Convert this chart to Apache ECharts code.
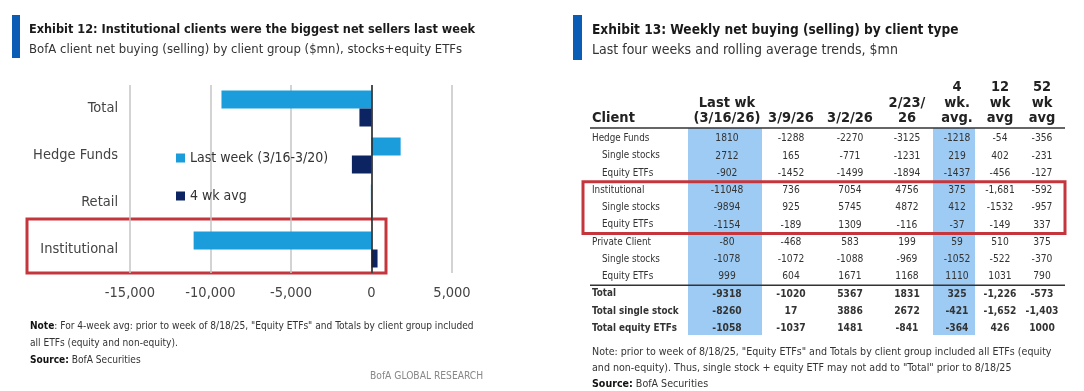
<!DOCTYPE html>
<html><head><meta charset="utf-8">
<script src="https://cdn.jsdelivr.net/npm/echarts@6/dist/echarts.min.js"></script>
<style>html,body{margin:0;padding:0;background:#fff}#c{width:1084px;height:391px}</style>
</head><body><div id="c"></div>
<script>
// ---------- data: Exhibit 12 ----------
const categories = ['Total', 'Hedge Funds', 'Retail', 'Institutional'];
const lastWeek = [-9318, 1810, -40, -11048];
const fourWeekAvg = [-750, -1218, 30, 375];
const seriesNames = ['Last week (3/16-3/20)', '4 wk avg'];

// ---------- data: Exhibit 13 ----------
const tableHeaderFirst = 'Client';
const tableColumns = ['Last wk\n(3/16/26)', '3/9/26', '3/2/26', '2/23/\n26', '4\nwk.\navg.', '12\nwk\navg', '52\nwk\navg'];
const tableRowNames = ['Hedge Funds', 'Single stocks', 'Equity ETFs', 'Institutional', 'Single stocks', 'Equity ETFs',
  'Private Client', 'Single stocks', 'Equity ETFs', 'Total', 'Total single stock', 'Total equity ETFs'];
const hedgeFunds = ['1810', '-1288', '-2270', '-3125', '-1218', '-54', '-356'];
const hedgeFundsSingle = ['2712', '165', '-771', '-1231', '219', '402', '-231'];
const hedgeFundsETF = ['-902', '-1452', '-1499', '-1894', '-1437', '-456', '-127'];
const institutional = ['-11048', '736', '7054', '4756', '375', '-1,681', '-592'];
const institutionalSingle = ['-9894', '925', '5745', '4872', '412', '-1532', '-957'];
const institutionalETF = ['-1154', '-189', '1309', '-116', '-37', '-149', '337'];
const privateClient = ['-80', '-468', '583', '199', '59', '510', '375'];
const privateClientSingle = ['-1078', '-1072', '-1088', '-969', '-1052', '-522', '-370'];
const privateClientETF = ['999', '604', '1671', '1168', '1110', '1031', '790'];
const totalAll = ['-9318', '-1020', '5367', '1831', '325', '-1,226', '-573'];
const totalSingle = ['-8260', '17', '3886', '2672', '-421', '-1,652', '-1,403'];
const totalETF = ['-1058', '-1037', '1481', '-841', '-364', '426', '1000'];
const tableValues = [hedgeFunds, hedgeFundsSingle, hedgeFundsETF, institutional, institutionalSingle, institutionalETF,
  privateClient, privateClientSingle, privateClientETF, totalAll, totalSingle, totalETF];

// ---------- layout / style ----------
const FONT = '"Liberation Sans Narrow", "DejaVu Sans Condensed", Lato, sans-serif';
const LIGHT = '#1b9ddb', NAVY = '#0c2461', RED = '#c4363c', TITLEBLUE = '#0b5cb5', HL = '#9ecbf3', TXT = '#333';
const TABLE_W = 482;                    // table width in layout units (px)
const colCenters = [144, 208, 267, 324, 374, 417, 459];
const hlBands = [[105, 179], [350, 392]];
const labelIndent = {main: 9, sub: 19};
const highlightRows = [3, 5];           // red box rows (first, last)
const separatorBefore = 9;
const BODY_FS = 10.2;

const chart = echarts.init(document.getElementById('c'), null, {renderer: 'canvas'});

const cells = [];
tableValues.forEach((row, r) => row.forEach((t, c) => cells.push({r, c, t})));
const isBoldRow = r => tableRowNames[r].startsWith('Total');
const isSubRow = r => /^(Single stocks|Equity ETFs)$/.test(tableRowNames[r]);

function txt(text, x, y, o) {
  return Object.assign({type: 'text', style: Object.assign({text, x, y, fontFamily: FONT, fill: TXT, fontSize: 12, align: 'left', verticalAlign: 'middle'}, o || {}), silent: true});
}

const option = {
  animation: false,
  backgroundColor: '#fff',
  textStyle: {fontFamily: FONT},
  grid: [
    {left: 130, width: 322, top: 85, height: 188},
    {left: 583, width: TABLE_W, top: 130, height: 207}
  ],
  xAxis: [
    {gridIndex: 0, type: 'value', min: -15000, max: 5000, interval: 5000,
      axisLine: {show: false}, axisTick: {show: false},
      axisLabel: {fontSize: 14.5, color: '#444', margin: 13, fontFamily: FONT, formatter: v => v.toLocaleString('en-US')},
      splitLine: {lineStyle: {color: '#c4c4c4', width: 1.5}}},
    {gridIndex: 1, type: 'value', min: 0, max: TABLE_W, show: false}
  ],
  yAxis: [
    {gridIndex: 0, type: 'category', data: categories, inverse: true,
      axisLine: {show: false}, axisTick: {show: false},
      axisLabel: {fontSize: 14.5, color: '#444', margin: 12, fontFamily: FONT}},
    {gridIndex: 1, type: 'category', data: tableRowNames.map((n, i) => i + ' ' + n), inverse: true, show: false}
  ],
  legend: {
    orient: 'vertical', left: 171, top: 146, itemWidth: 9, itemHeight: 9, itemGap: 24, icon: 'rect',
    textStyle: {fontSize: 14, color: TXT, fontFamily: FONT}, data: seriesNames
  },
  series: [
    {name: seriesNames[0], type: 'bar', xAxisIndex: 0, yAxisIndex: 0, data: lastWeek, barWidth: 18, barGap: '0%',
      itemStyle: {color: LIGHT},
      markLine: {silent: true, symbol: 'none', label: {show: false}, lineStyle: {color: '#222', width: 1.5, type: 'solid'}, data: [{xAxis: 0}]}},
    {name: seriesNames[1], type: 'bar', xAxisIndex: 0, yAxisIndex: 0, data: fourWeekAvg, barWidth: 18, barGap: '0%',
      itemStyle: {color: NAVY}},
    // highlighted columns
    {type: 'custom', xAxisIndex: 1, yAxisIndex: 1, z: 1, silent: true,
      data: hlBands.map(b => [b[0], 0, b[1]]),
      renderItem(params, api) {
        const cs = params.coordSys;
        const x0 = api.coord([api.value(0), 0])[0], x1 = api.coord([api.value(2), 0])[0];
        return {type: 'rect', shape: {x: x0, y: cs.y - 2, width: x1 - x0, height: cs.height}, style: {fill: HL}};
      }},
    // cell values
    {type: 'custom', xAxisIndex: 1, yAxisIndex: 1, z: 3, silent: true,
      data: cells.map(c => [colCenters[c.c], c.r]),
      renderItem(params, api) {
        const cell = cells[params.dataIndex];
        const p = api.coord([api.value(0), api.value(1)]);
        return txt(cell.t, p[0], p[1], {align: 'center', fontSize: BODY_FS, fontWeight: isBoldRow(cell.r) ? 'bold' : 'normal'});
      }},
    // row labels
    {type: 'custom', xAxisIndex: 1, yAxisIndex: 1, z: 3, silent: true,
      data: tableRowNames.map((n, r) => [isSubRow(r) ? labelIndent.sub : labelIndent.main, r]),
      renderItem(params, api) {
        const r = params.dataIndex;
        const p = api.coord([api.value(0), api.value(1)]);
        return txt(tableRowNames[r], p[0], p[1], {fontSize: 9.8, fontWeight: isBoldRow(r) ? 'bold' : 'normal'});
      }},
    // header
    {type: 'custom', xAxisIndex: 1, yAxisIndex: 1, z: 3, silent: true,
      data: [[labelIndent.main, 0]].concat(tableColumns.map((c, i) => [colCenters[i], 0])),
      renderItem(params, api) {
        const cs = params.coordSys;
        const i = params.dataIndex;
        const x = api.coord([api.value(0), 0])[0];
        const t = i === 0 ? tableHeaderFirst : tableColumns[i - 1];
        return txt(t, x, cs.y - 4, {align: i === 0 ? 'left' : 'center', verticalAlign: 'bottom', fontSize: 14.5, fontWeight: 'bold', lineHeight: 15.5, fill: '#222'});
      }},
    // rules and red box
    {type: 'custom', xAxisIndex: 1, yAxisIndex: 1, z: 4, silent: true,
      data: [[0, 0]],
      renderItem(params, api) {
        const cs = params.coordSys;
        const band = api.size([0, 1])[1];
        const xa = api.coord([7, 0])[0], xb = api.coord([TABLE_W, 0])[0];
        const ySep = api.coord([0, separatorBefore])[1] - band / 2;
        const yTop = api.coord([0, highlightRows[0]])[1] - band / 2;
        const yBot = api.coord([0, highlightRows[1]])[1] + band / 2;
        return {type: 'group', children: [
          {type: 'line', shape: {x1: xa, y1: cs.y - 2, x2: xb, y2: cs.y - 2}, style: {stroke: '#333', lineWidth: 1.5}},
          {type: 'line', shape: {x1: xa, y1: ySep, x2: xb, y2: ySep}, style: {stroke: '#333', lineWidth: 1.5}},
          {type: 'rect', shape: {x: cs.x, y: yTop, width: cs.width, height: yBot - yTop}, style: {fill: 'none', stroke: RED, lineWidth: 3}}
        ]};
      }}
  ],
  graphic: [
    {type: 'rect', shape: {x: 12, y: 15, width: 8, height: 43}, style: {fill: TITLEBLUE}, silent: true},
    txt('Exhibit 12: Institutional clients were the biggest net sellers last week', 29, 30, {fontSize: 12.6, fontWeight: 'bold', fill: '#1a1a1a'}),
    txt('BofA client net buying (selling) by client group ($mn), stocks+equity ETFs', 29, 50, {fontSize: 13, fill: '#333'}),
    {type: 'rect', shape: {x: 27, y: 219, width: 359, height: 54}, style: {fill: 'none', stroke: RED, lineWidth: 3}, silent: true},
    {type: 'text', silent: true, style: {x: 30, y: 318, fontFamily: FONT, fontSize: 10.1, lineHeight: 17, fill: TXT,
      text: '{b|Note}: For 4-week avg: prior to week of 8/18/25, "Equity ETFs" and Totals by client group included\nall ETFs (equity and non-equity).\n{b|Source:} BofA Securities',
      rich: {b: {fontWeight: 'bold', fontFamily: FONT, fontSize: 10.1, fill: '#111'}}}},
    txt('BofA GLOBAL RESEARCH', 370, 376, {fontSize: 10.2, fill: '#888'}),
    {type: 'rect', shape: {x: 573, y: 15, width: 9, height: 45}, style: {fill: TITLEBLUE}, silent: true},
    txt('Exhibit 13: Weekly net buying (selling) by client type', 592, 30, {fontSize: 13.6, fontWeight: 'bold', fill: '#1a1a1a'}),
    txt('Last four weeks and rolling average trends, $mn', 592, 50, {fontSize: 14, fill: '#333'}),
    {type: 'text', silent: true, style: {x: 592, y: 344, fontFamily: FONT, fontSize: 10.6, lineHeight: 16, fill: TXT,
      text: 'Note: prior to week of 8/18/25, "Equity ETFs" and Totals by client group included all ETFs (equity\nand non-equity). Thus, single stock + equity ETF may not add to "Total" prior to 8/18/25\n{b|Source:} BofA Securities',
      rich: {b: {fontWeight: 'bold', fontFamily: FONT, fontSize: 10.6, fill: '#111'}}}}
  ]
};
chart.setOption(option);
</script></body></html>
